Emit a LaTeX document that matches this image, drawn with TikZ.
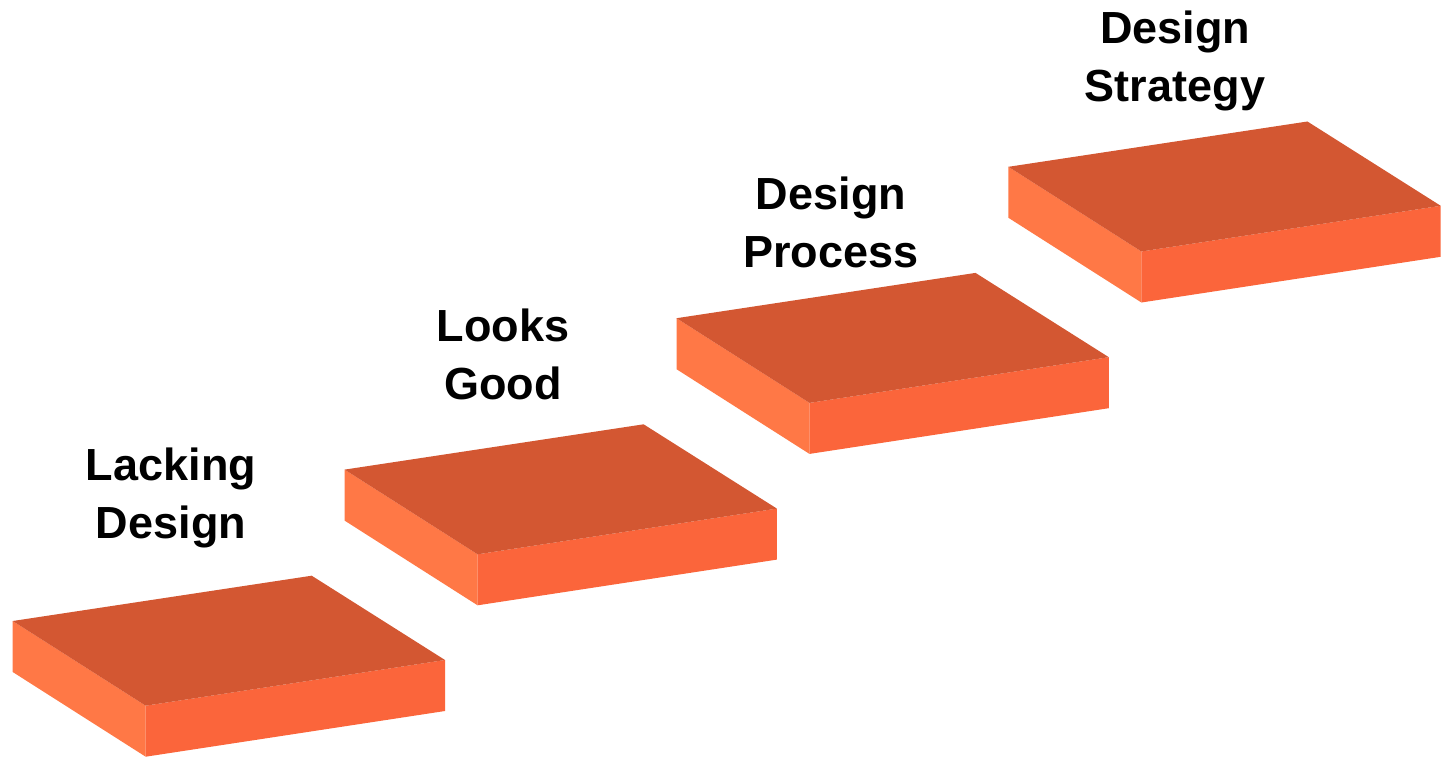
\documentclass[tikz,border=0pt]{standalone}
\usepackage{fontspec}
\setmainfont{Liberation Sans}
\definecolor{topc}{RGB}{211,87,50}
\definecolor{leftc}{RGB}{255,120,70}
\definecolor{frontc}{RGB}{251,101,59}
\begin{document}
\begin{tikzpicture}[x=1pt,y=1pt,
  lbl/.style={anchor=base,align=center,text=black,font=\bfseries\fontsize{45}{58}\selectfont,inner sep=0pt}]
\useasboundingbox (0,0) rectangle (1447,-757);
\foreach \i in {0,1,2,3}{
  \begin{scope}[shift={(12.7+331.9*\i,-621+151.4*\i)}]
    \coordinate (tl\i) at (0,0);
    \coordinate (tb\i) at (299,45.3);
    \coordinate (tr\i) at (432.3,-39);
    \coordinate (tf\i) at (133,-84.7);
    \fill[leftc] (0,0) -- (133,-84.7) -- (133,-135.7) -- (0,-51) -- cycle;
    \fill[frontc] (133,-84.7) -- (432.3,-39) -- (432.3,-90) -- (133,-135.7) -- cycle;
    \fill[topc] (0,0) -- (299,45.3) -- (432.3,-39) -- (133,-84.7) -- cycle;
  \end{scope}
}
\node[lbl] (l1) at (171,-538) {Lacking\\Design};
\node[lbl] (l2) at (503,-399) {Looks\\Good};
\node[lbl] (l3) at (831,-267) {Design\\Process};
\node[lbl] (l4) at (1175,-102) {Design\\Strategy};
\end{tikzpicture}
\end{document}
